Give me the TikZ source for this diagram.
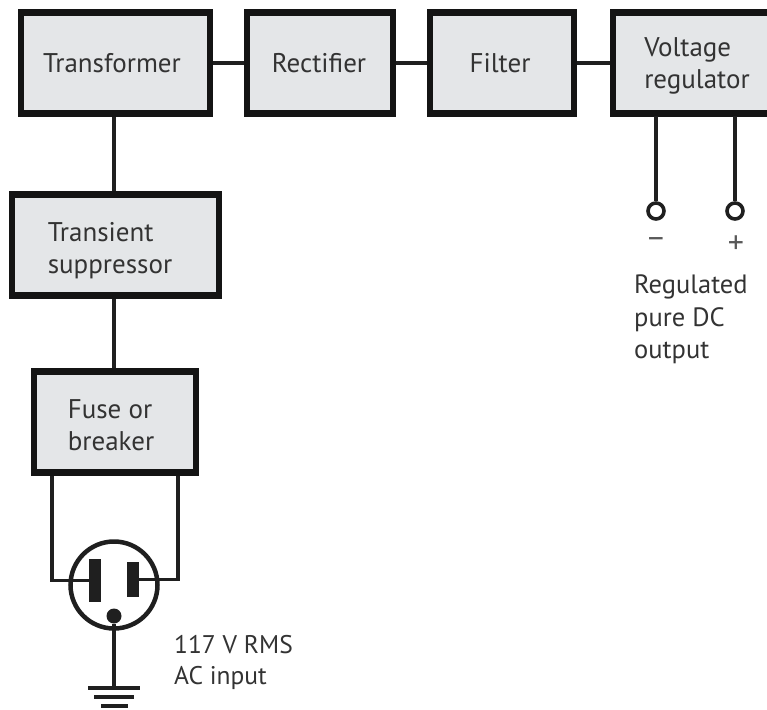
\documentclass[tikz,border=0pt]{standalone}
\usepackage{fontspec}
\setmainfont{PT Sans}
\definecolor{boxfill}{HTML}{E4E6E8}
\tikzset{
  blk/.style={draw=black!92,line width=6.5pt,fill=boxfill,minimum height=101pt,inner sep=0pt},
  boxtxt/.style={inner sep=0pt,align=left,text=black!80,font=\fontsize{27}{32}\selectfont},
  wire/.style={draw=black!88,line width=3.6pt},
  lbl/.style={inner sep=0pt,align=left,text=black!80,font=\fontsize{26.5}{32.5}\selectfont},
  lblb/.style={inner sep=0pt,align=left,text=black!80,font=\fontsize{25.5}{31.5}\selectfont},
  sgn/.style={inner sep=0pt,text=black!65,font=\fontsize{32}{36}\selectfont},
  term/.style={circle,draw=black!88,line width=3.6pt,fill=white,minimum size=16pt,inner sep=0pt},
  prong/.style={fill=black!88,inner sep=0pt,draw=none},
}
\begin{document}
\begin{tikzpicture}[x=1pt,y=-1pt]
\useasboundingbox (0,0) rectangle (767,709);
% blocks
\node[blk,minimum width=189pt,label={[boxtxt,xshift=-3.5pt]center:Transformer}] (trans) at (115.5,63) {};
\node[blk,minimum width=146pt,label={[boxtxt,xshift=-1pt]center:Rectifier}] (rect) at (320,63) {};
\node[blk,minimum width=144pt,label={[boxtxt,xshift=-2pt]center:Filter}] (filt) at (502,63) {};
\node[blk,minimum width=168pt,label={[boxtxt,yshift=-3pt]center:Voltage\\regulator}] (volt) at (697,63) {};
\node[blk,minimum width=207pt,label={[boxtxt,xshift=-5.5pt,yshift=-5.5pt]center:Transient\\suppressor}] (supp) at (115.5,245) {};
\node[blk,minimum width=162pt,label={[boxtxt,xshift=-4pt,yshift=-3.5pt]center:Fuse or\\breaker}] (fuse) at (115,422) {};
% outlet
\node[circle,draw=black!88,line width=4.5pt,minimum size=87pt,inner sep=0pt] (outlet) at (114,585) {};
\node[prong,minimum width=12pt,minimum height=43pt] (pl) at (95,580.5) {};
\node[prong,minimum width=12pt,minimum height=35pt] (pr) at (133,579.5) {};
\node[circle,fill=black!88,minimum size=15pt,inner sep=0pt] (gnd) at (114,616) {};
% connectors
\draw[wire] (trans) -- (rect);
\draw[wire] (rect) -- (filt);
\draw[wire] (filt.east) -- (filt.east -| volt.west);
\draw[wire] (trans.south -| gnd) -- (supp.north -| gnd);
\draw[wire] (supp.south -| gnd) -- (fuse.north -| gnd);
% fuse to outlet
\coordinate (fl) at (52,476);
\coordinate (fr) at (178,476);
\draw[wire] (fl) -- (fl |- pl) -- (pl.west);
\draw[wire] (fr) -- (fr |- pr) -- (pr.east);
% ground
\node[prong,minimum width=52pt,minimum height=4.5pt] (g1) at (114,688) {};
\node[prong,minimum width=40pt,minimum height=4.5pt] (g2) at (114,697) {};
\node[prong,minimum width=27pt,minimum height=4.5pt] (g3) at (114,706) {};
\draw[wire] (gnd) -- (g1);
% output terminals
\node[term] (tm) at (656,211) {};
\node[term] (tp) at (735,211) {};
\coordinate (vm) at (656,116);
\coordinate (vp) at (735,116);
\draw[wire] (vm) -- (tm);
\draw[wire] (vp) -- (tp);
% labels
\node[sgn] (sm) at (656,244) {\char"2212};
\node[sgn] (sp) at (736,245) {+};
\node[lbl,anchor=north west] (reg) at (634,275) {Regulated\\pure DC\\output};
\node[lblb,anchor=north west] (ac) at (174,635) {117 V RMS\\AC input};
\end{tikzpicture}
\end{document}
